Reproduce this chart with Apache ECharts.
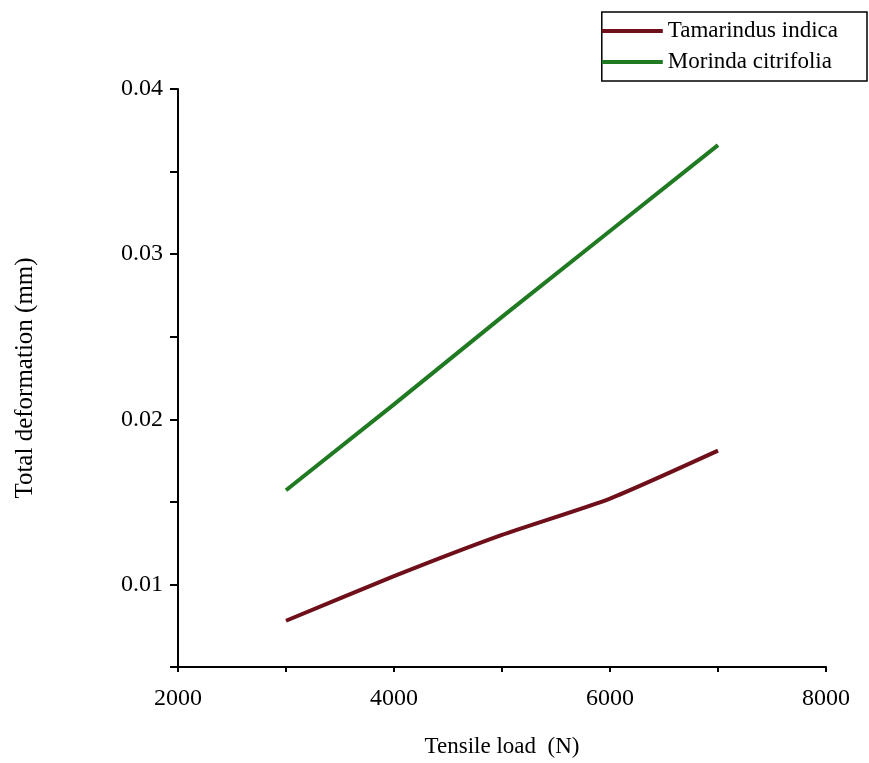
<!DOCTYPE html>
<html>
<head>
<meta charset="utf-8">
<script src="https://cdn.jsdelivr.net/npm/echarts@6/dist/echarts.min.js"></script>
<style>
  html, body { margin: 0; padding: 0; background: #fff; }
  #chart { width: 869px; height: 763px; }
</style>
</head>
<body>
<div id="chart"></div>
<script>
  // tensile load (N)
  const loads = [3000, 4000, 5000, 6000, 7000];
  // total deformation (mm)
  const tamarindus = [0.0078, 0.0105, 0.0130, 0.0152, 0.0181];
  const morinda = [0.0157, 0.0209, 0.0262, 0.0314, 0.0366];
  const seriesNames = ['Tamarindus indica', 'Morinda citrifolia'];

  const font = "'Liberation Serif', 'Times New Roman', serif";

  function pairs(ys) {
    return loads.map((x, i) => [x, ys[i]]);
  }

  const chart = echarts.init(document.getElementById('chart'));
  chart.setOption({
    backgroundColor: '#fff',
    animation: false,
    textStyle: { fontFamily: font },
    grid: { left: 178, right: 43, top: 89, bottom: 95 },
    legend: {
      data: seriesNames,
      orient: 'vertical',
      right: 2,
      top: 12,
      icon: 'rect',
      itemWidth: 61,
      itemHeight: 4,
      itemGap: 7,
      padding: [7, 29, 7, 0],
      borderColor: '#000',
      borderWidth: 1.5,
      textStyle: { fontFamily: font, fontSize: 23, color: '#000', lineHeight: 24 }
    },
    xAxis: {
      type: 'value',
      min: 2000,
      max: 8000,
      interval: 1000,
      name: 'Tensile load  (N)',
      nameLocation: 'middle',
      nameGap: 68,
      nameTextStyle: { fontFamily: font, fontSize: 23, color: '#000' },
      axisLine: { show: true, lineStyle: { color: '#000', width: 2 } },
      axisTick: { show: true, length: 5, lineStyle: { color: '#000', width: 2 } },
      axisLabel: {
        margin: 20,
        fontFamily: font,
        fontSize: 24,
        color: '#000',
        formatter: v => (v % 2000 === 0 ? String(v) : '')
      },
      splitLine: { show: false }
    },
    yAxis: {
      type: 'value',
      min: 0.005,
      max: 0.04,
      interval: 0.005,
      name: 'Total deformation (mm)',
      nameLocation: 'middle',
      nameGap: 140,
      nameTextStyle: { fontFamily: font, fontSize: 25, color: '#000' },
      axisLine: { show: true, lineStyle: { color: '#000', width: 2 } },
      axisTick: { show: true, length: 8, lineStyle: { color: '#000', width: 2 } },
      axisLabel: {
        margin: 15,
        fontFamily: font,
        fontSize: 24,
        color: '#000',
        formatter: v => {
          const k = v * 100;
          return Math.abs(k - Math.round(k)) < 1e-6 ? v.toFixed(2) : '';
        }
      },
      splitLine: { show: false }
    },
    series: [
      {
        name: seriesNames[0],
        type: 'line',
        data: pairs(tamarindus),
        symbol: 'none',
        smooth: 0.2,
        lineStyle: { color: '#6e0f1a', width: 4 },
        itemStyle: { color: '#6e0f1a' }
      },
      {
        name: seriesNames[1],
        type: 'line',
        data: pairs(morinda),
        symbol: 'none',
        lineStyle: { color: '#1f7a22', width: 4 },
        itemStyle: { color: '#1f7a22' }
      }
    ]
  });
</script>
</body>
</html>
